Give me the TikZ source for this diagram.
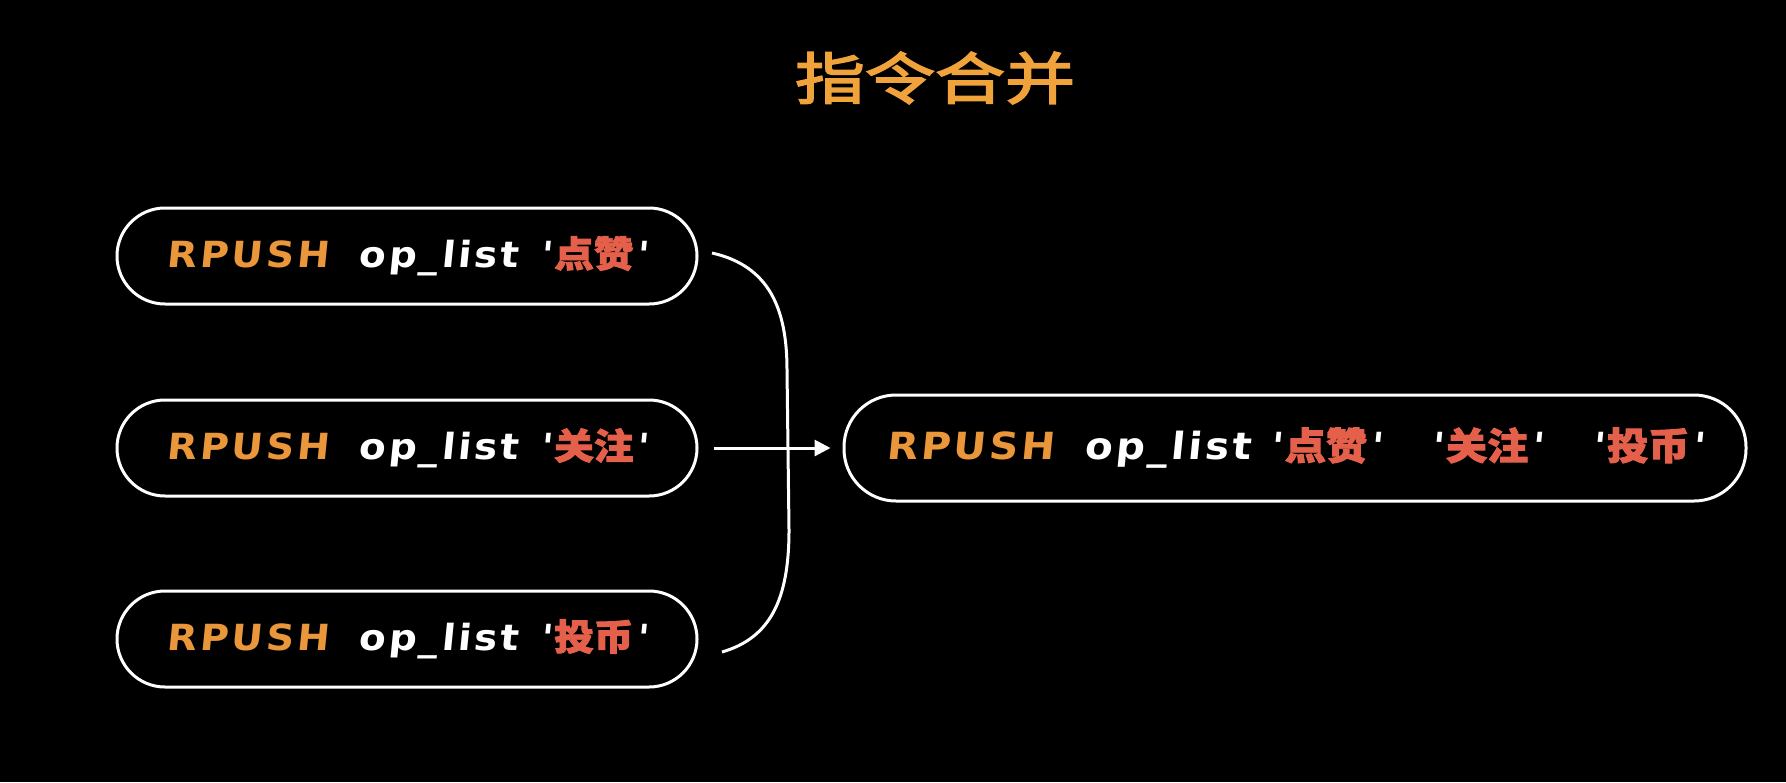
\documentclass[tikz,border=0pt]{standalone}
\usepackage{fontspec}
\setmainfont{DejaVu Sans}
\newfontfamily\code{DejaVu Sans}[LetterSpace=8,FakeStretch=1.08,FakeSlant=0.1]
\newfontfamily\cjk{Noto Sans CJK SC}[FakeBold=2.5,FakeStretch=1.1]
\newfontfamily\cjktitle{Noto Sans CJK SC}[FakeBold=3,FakeStretch=1.25]
\usetikzlibrary{arrows.meta}

\definecolor{cmdorange}{HTML}{E9973A}
\definecolor{titleorange}{HTML}{F0A23B}
\definecolor{valred}{HTML}{E5604B}

\newcommand{\rpush}{\textcolor{cmdorange}{RPUSH}}
\newcommand{\oplist}{op\_list}
\newcommand{\val}[1]{\textquotesingle\kern1.5pt\textcolor{valred}{{\cjk #1}}\kern1.5pt\textquotesingle}

\tikzset{
  cmdbox/.style={draw=white, line width=1.5pt, rounded corners=24pt,
    minimum width=290pt, minimum height=48pt, text=white, inner sep=0pt,
    font=\code\bfseries\fontsize{18}{18}\selectfont},
  link/.style={draw=white, line width=1.5pt}
}

\begin{document}
\begin{tikzpicture}[x=0.5pt,y=-0.5pt]

  \useasboundingbox (0,0) rectangle (1786,782);
  \fill[black] (0,0) rectangle (1786,782);

  \node[text=titleorange, font=\cjktitle\fontsize{28}{28}\selectfont] (title) at (935,78) {指令合并};

  \begin{scope}[every node/.style={cmdbox}]
    \node (like)   at (407,256) {\rpush\hspace{15pt}\oplist\hspace{11pt}\val{点赞}};
    \node (follow) at (407,448) {\rpush\hspace{15pt}\oplist\hspace{11pt}\val{关注}};
    \node (coin)   at (407,639) {\rpush\hspace{15pt}\oplist\hspace{11pt}\val{投币}};
    \node[minimum width=451pt, minimum height=53pt, rounded corners=26pt,
          font=\code\bfseries\fontsize{18.7}{18.7}\selectfont] (merged) at (1295,448)
      {\rpush\hspace{15pt}\oplist\hspace{10pt}\val{点赞}\hspace{25pt}\val{关注}\hspace{25pt}\val{投币}};
  \end{scope}

  \coordinate (top) at (712,253);
  \coordinate (bot) at (722,652);

  \draw[link] (top) .. controls (770,266) and (787,310) .. (787,370)
    -- (789,530) .. controls (789,600) and (770,638) .. (bot);
  \path (follow) edge[link, shorten <=7.5pt, shorten >=6pt, -{Triangle[length=8pt,width=8pt]}] (merged);

\end{tikzpicture}
\end{document}
